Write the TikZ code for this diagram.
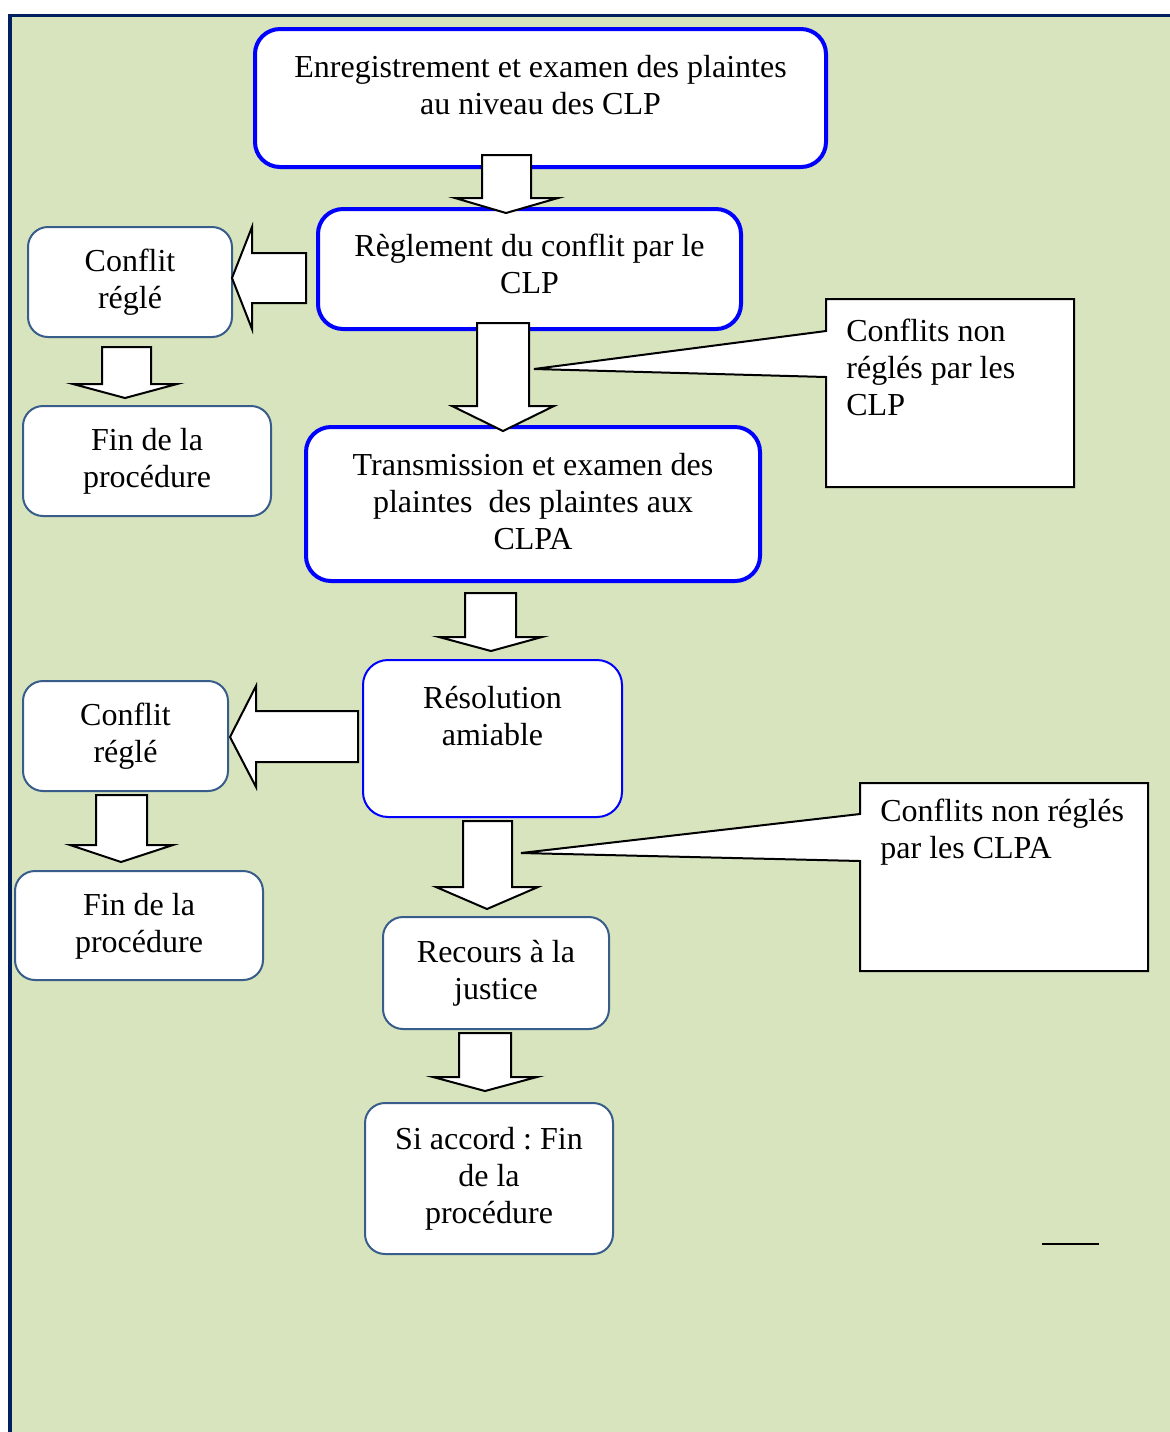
\documentclass[tikz,border=0pt]{standalone}
\usepackage{fontspec}
\setmainfont{Liberation Serif}
\usetikzlibrary{fit}
\definecolor{bgreen}{HTML}{D7E4BD}
\definecolor{framenavy}{HTML}{002060}
\definecolor{boxblue}{HTML}{0000FF}
\definecolor{boxgrey}{HTML}{385D8A}
\frenchspacing
\begin{document}
\begin{tikzpicture}[x=0.5pt,y=-0.5pt,
  font=\fontsize{16pt}{18.5pt}\selectfont,
  bluebox/.style={draw=boxblue,line width=2pt,fill=white,rounded corners=12.5pt,inner sep=0pt},
  bluethin/.style={draw=boxblue,line width=1pt,fill=white,rounded corners=12.5pt,inner sep=0pt},
  greybox/.style={draw=boxgrey,line width=1pt,fill=white,rounded corners=10pt,inner sep=0pt},
  txt/.style={align=center,inner sep=0pt},
  ltxt/.style={align=left,inner sep=0pt,anchor=west},
  blockarrow/.style={draw=black,line width=1pt,fill=white,line join=miter},
  callout/.style={draw=black,line width=1pt,fill=white,line join=miter}]
\useasboundingbox (0,0) rectangle (1170,1432);
% background and frame
\fill[white] (0,0) rectangle (1170,1432);
\fill[bgreen] (12,17) rectangle (1170,1432);
\draw[framenavy,line width=1.5pt] (8,15.5) -- (1170,15.5);
\draw[framenavy,line width=2pt] (10,14) -- (10,1432);

% boxes
\node[bluebox,fit={(255,29) (826,167)}] (b1) {};
\node[txt] (t1) at (540.5,85) {Enregistrement et examen des plaintes\\au niveau des CLP};

\node[bluebox,fit={(318,209) (741,329)}] (b2) {};
\node[txt] (t2) at (529.5,264) {Règlement du conflit par le\\CLP};

\node[greybox,fit={(28,227) (232,337)}] (c1) {};
\node[txt] (tc1) at (130,282) {Conflit\\réglé};

\node[greybox,fit={(23,406) (271,516)}] (f1) {};
\node[txt] (tf1) at (147,461) {Fin de la\\procédure};

\node[bluebox,fit={(306,427) (760,581)}] (b3) {};
\node[txt] (t3) at (533,502) {Transmission et examen des\\plaintes~ des plaintes aux\\CLPA};

\node[bluethin,fit={(363,660) (622,817)}] (b4) {};
\node[txt] (t4) at (492.5,716) {Résolution\\amiable};

\node[greybox,fit={(23,681) (228,791)}] (c2) {};
\node[txt] (tc2) at (125.5,736) {Conflit\\réglé};

\node[greybox,fit={(15,871) (263,980)}] (f2) {};
\node[txt] (tf2) at (139,926) {Fin de la\\procédure};

\node[greybox,fit={(383,917) (609,1029)}] (b5) {};
\node[txt] (t5) at (496,973) {Recours à la\\justice};

\node[greybox,fit={(365,1103) (613,1254)}] (b6) {};
\node[txt] (t6) at (489,1179) {Si accord : Fin\\de la\\procédure};

% block arrows
\draw[blockarrow] (482,155) -- (531,155) -- (531,198) -- (558,198) -- (506,213) -- (455,198) -- (482,198) -- cycle;
\draw[blockarrow] (306,253) -- (306,303) -- (252,303) -- (252,329) -- (232,278) -- (252,227) -- (252,253) -- cycle;
\draw[blockarrow] (102,347) -- (151,347) -- (151,384) -- (177,384) -- (125,398) -- (73,384) -- (102,384) -- cycle;
\draw[blockarrow] (477,323) -- (529,323) -- (529,406) -- (554,406) -- (503,431) -- (452,406) -- (477,406) -- cycle;
\draw[blockarrow] (465,593) -- (516,593) -- (516,637) -- (542,637) -- (491,651) -- (439,637) -- (465,637) -- cycle;
\draw[blockarrow] (358,711) -- (358,762) -- (256,762) -- (256,787) -- (230,737) -- (256,686) -- (256,711) -- cycle;
\draw[blockarrow] (96,795) -- (147,795) -- (147,845) -- (173,845) -- (121,862) -- (70,845) -- (96,845) -- cycle;
\draw[blockarrow] (463,821) -- (512,821) -- (512,887) -- (538,887) -- (487,909) -- (436,887) -- (463,887) -- cycle;
\draw[blockarrow] (459,1033) -- (511,1033) -- (511,1077) -- (537,1077) -- (485,1091) -- (433,1077) -- (459,1077) -- cycle;

% callouts
\draw[callout] (826,299) -- (1074,299) -- (1074,487) -- (826,487) -- (826,377) -- (534,369) -- (826,331) -- cycle;
\node[ltxt] (k1) at (846,367) {Conflits non\\réglés par les\\CLP};
\draw[callout] (860,783) -- (1148,783) -- (1148,971) -- (860,971) -- (860,861) -- (521,853) -- (860,814) -- cycle;
\node[ltxt] (k2) at (880,832) {Conflits non réglés\\par les CLPA};

% small stray line
\coordinate (s1) at (1042,1244);
\coordinate (s2) at (1099,1244);
\draw[black,line width=1pt] (s1) -- (s2);
\end{tikzpicture}
\end{document}
